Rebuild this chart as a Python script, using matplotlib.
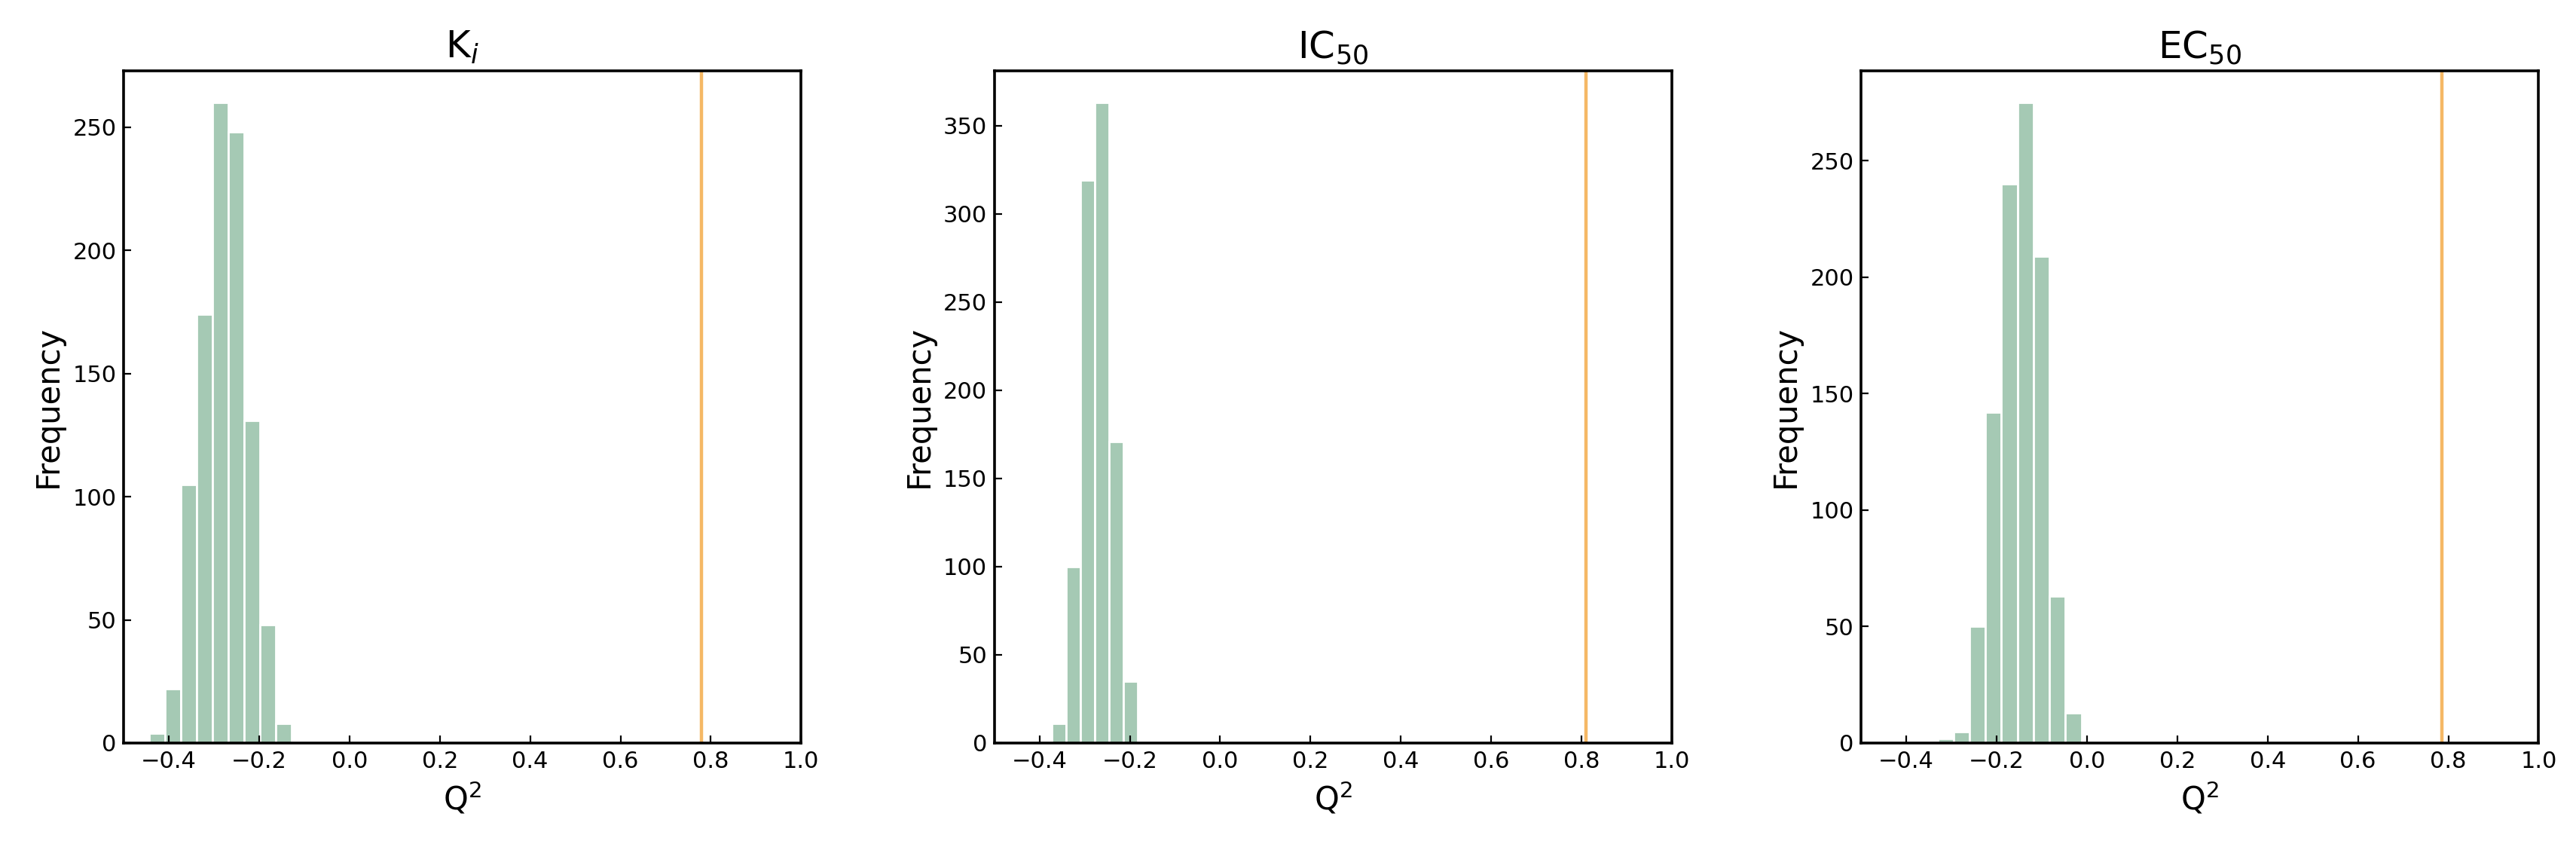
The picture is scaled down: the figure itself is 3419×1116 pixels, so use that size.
import numpy as np
import matplotlib
matplotlib.use("Agg")
import matplotlib.pyplot as plt

titles = ["K$_i$", "IC$_{50}$", "EC$_{50}$"]
starts = [-0.443, -0.372, -0.331]
widths = [0.035, 0.0317, 0.0354]
counts_ki = [4, 22, 105, 174, 260, 248, 131, 48, 8]
counts_ic50 = [11, 100, 319, 363, 171, 35]
counts_ec50 = [2, 5, 50, 142, 240, 275, 209, 63, 13]
true_q2 = [0.78, 0.81, 0.785]
xticks = [-0.4, -0.2, 0.0, 0.2, 0.4, 0.6, 0.8, 1.0]

fig = plt.figure(figsize=(17.095, 5.58), dpi=200)
lefts = [0.048, 0.386, 0.7225]
for i, counts in enumerate([counts_ki, counts_ic50, counts_ec50]):
    ax = fig.add_axes([lefts[i], 0.1165, 0.263, 0.7995])
    edges = starts[i] + widths[i] * np.arange(len(counts) + 1)
    ax.hist(edges[:-1], bins=edges, weights=counts, color="#a5c9b4",
            edgecolor="white", linewidth=1.0)
    ax.axvline(true_q2[i], color="#f5b865", linewidth=1.6)
    ax.set_xlim(-0.5, 1.0)
    ax.set_xticks(xticks)
    ax.tick_params(direction="in", labelsize=11)
    ax.set_xlabel("Q$^2$", fontsize=15)
    ax.set_ylabel("Frequency", fontsize=15)
    ax.set_title(titles[i], fontsize=18)
    for s in ax.spines.values():
        s.set_linewidth(1.3)
fig.savefig("out.png")
